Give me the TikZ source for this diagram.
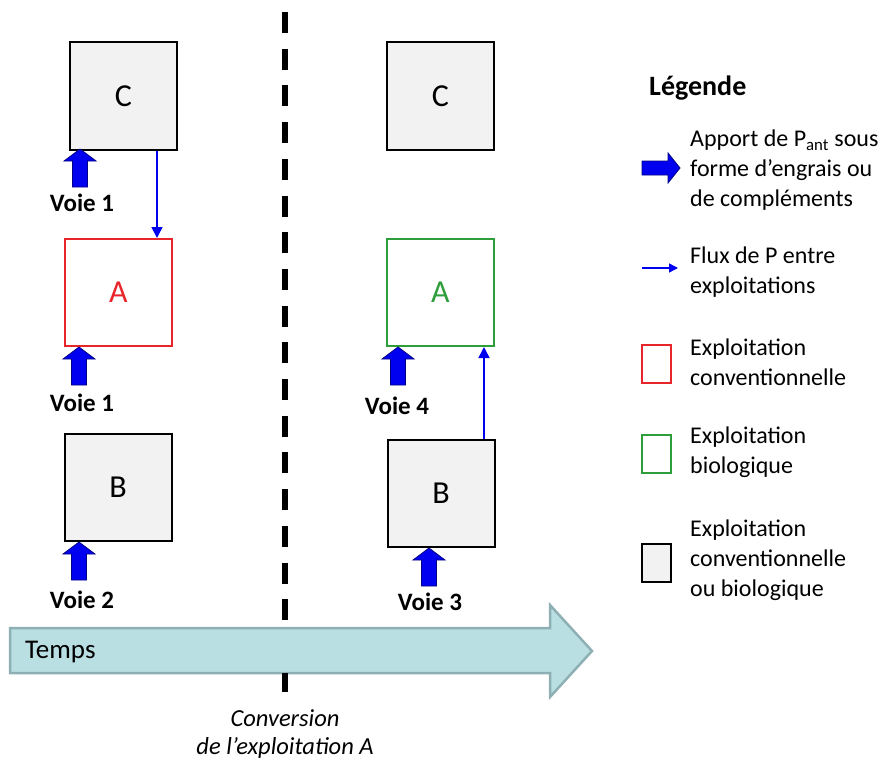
\documentclass[tikz,border=0pt]{standalone}
\usepackage{fontspec}
\setmainfont{Carlito}
\usetikzlibrary{arrows.meta,calc}
\definecolor{boxgray}{HTML}{F2F2F2}
\definecolor{bioGreen}{HTML}{2E9E3A}
\definecolor{convRed}{HTML}{E8262A}
\definecolor{timeFill}{HTML}{B9DFE3}
\definecolor{timeDraw}{HTML}{8EB0B4}
\definecolor{pBlue}{HTML}{0000F0}
\tikzset{
  farm/.style={draw=black,line width=2pt,fill=boxgray,minimum width=107pt,minimum height=107pt,inner sep=0pt,font=\fontsize{32}{36}\selectfont},
  convfarm/.style={farm,draw=convRed,fill=white,text=convRed},
  biofarm/.style={farm,draw=bioGreen,fill=white,text=bioGreen},
  voie/.style={font=\fontsize{25}{29}\selectfont\bfseries,inner sep=0pt},
  fat/.style={fill=pBlue,draw=pBlue!55!black,line width=0.8pt,line join=miter},
  flux/.style={draw=pBlue,line width=1.6pt,-{Triangle[length=11pt,width=11pt]}},
  legtxt/.style={anchor=west,align=left,inner sep=0pt,font=\fontsize{24}{30}\selectfont},
  legbox/.style={line width=2pt,minimum width=29pt,minimum height=38pt,inner sep=0pt},
  pics/uparrow/.style={code={
    \path[fat] (0,0) -- (16,12) -- (7.5,12) -- (7.5,38) -- (-7.5,38) -- (-7.5,12) -- (-16,12) -- cycle;}},
  pics/rightarrow/.style={code={
    \path[fat] (0,0) -- (-12,-15) -- (-12,-7) -- (-38,-7) -- (-38,7) -- (-12,7) -- (-12,15) -- cycle;}}
}
\begin{document}
\begin{tikzpicture}[x=1pt,y=-1pt]
\useasboundingbox (0,0) rectangle (884,760);
% timeline
\path[fill=timeFill,draw=timeDraw,line width=2.5pt,line join=miter] (10,628) -- (550,628) -- (550,605) -- (592,651) -- (550,697) -- (550,673) -- (10,673) -- cycle;
\node[anchor=west,font=\fontsize{27}{30}\selectfont,inner sep=0pt] (temps) at (25,652) {Temps};
% dashed separator
\draw[line width=6pt,dash pattern=on 21pt off 15.7pt] (285,12) -- (285,692);
\path[fill=timeFill] (279,630) rectangle (291,671);
% left column
\node[farm] (Cl) at (123.5,96) {C};
\node[convfarm] (Al) at (118.5,292.5) {A};
\node[farm] (Bl) at (118,487.5) {B};
% right column
\node[farm] (Cr) at (440.5,96) {C};
\node[biofarm] (Ar) at (440.5,292.5) {A};
\node[farm] (Br) at (441,493.5) {B};
% thick input arrows
\pic at (80,149) {uparrow};
\node[voie] (v1a) at (82,203) {Voie 1};
\pic at (79,347) {uparrow};
\node[voie] (v1b) at (82,403) {Voie 1};
\pic at (79,542) {uparrow};
\node[voie] (v2) at (82,600) {Voie 2};
\pic at (398,347) {uparrow};
\node[voie] (v4) at (397,406) {Voie 4};
\pic at (429,548) {uparrow};
\node[voie] (v3) at (430,602) {Voie 3};
% flows between farms
\coordinate (fl) at (157,0);
\coordinate (fr) at (484,0);
\draw[flux] (Cl.south -| fl) -- (Al.north -| fl);
\draw[flux] (Br.north -| fr) -- (Ar.south -| fr);
% conversion label
\node[font=\fontsize{24.5}{28}\selectfont\itshape,align=center,inner sep=0pt] (conv) at (285,734) {Conversion\\de l'exploitation A};
% legend
\node[anchor=west,inner sep=0pt,font=\fontsize{28}{32}\selectfont\bfseries] (leg) at (649,88) {Légende};
\pic at (680,168) {rightarrow};
\node[legtxt] (l1) at (690,170) {Apport de P\textsubscript{ant} sous\\forme d'engrais ou\\de compléments};
\coordinate (la0) at (642,268);
\coordinate (la1) at (678,268);
\draw[flux,line width=1.4pt,-{Triangle[length=9pt,width=9pt]}] (la0) -- (la1);
\node[legtxt] (l2) at (690,272) {Flux de P entre\\exploitations};
\node[legbox,draw=convRed] (lb1) at (656.5,364) {};
\node[legtxt] (l3) at (690,362) {Exploitation\\conventionnelle};
\node[legbox,draw=bioGreen] (lb2) at (656.5,454) {};
\node[legtxt] (l4) at (690,452) {Exploitation\\biologique};
\node[legbox,draw=black,fill=boxgray] (lb3) at (656.5,563) {};
\node[legtxt] (l5) at (690,560) {Exploitation\\conventionnelle\\ou biologique};
\end{tikzpicture}
\end{document}
